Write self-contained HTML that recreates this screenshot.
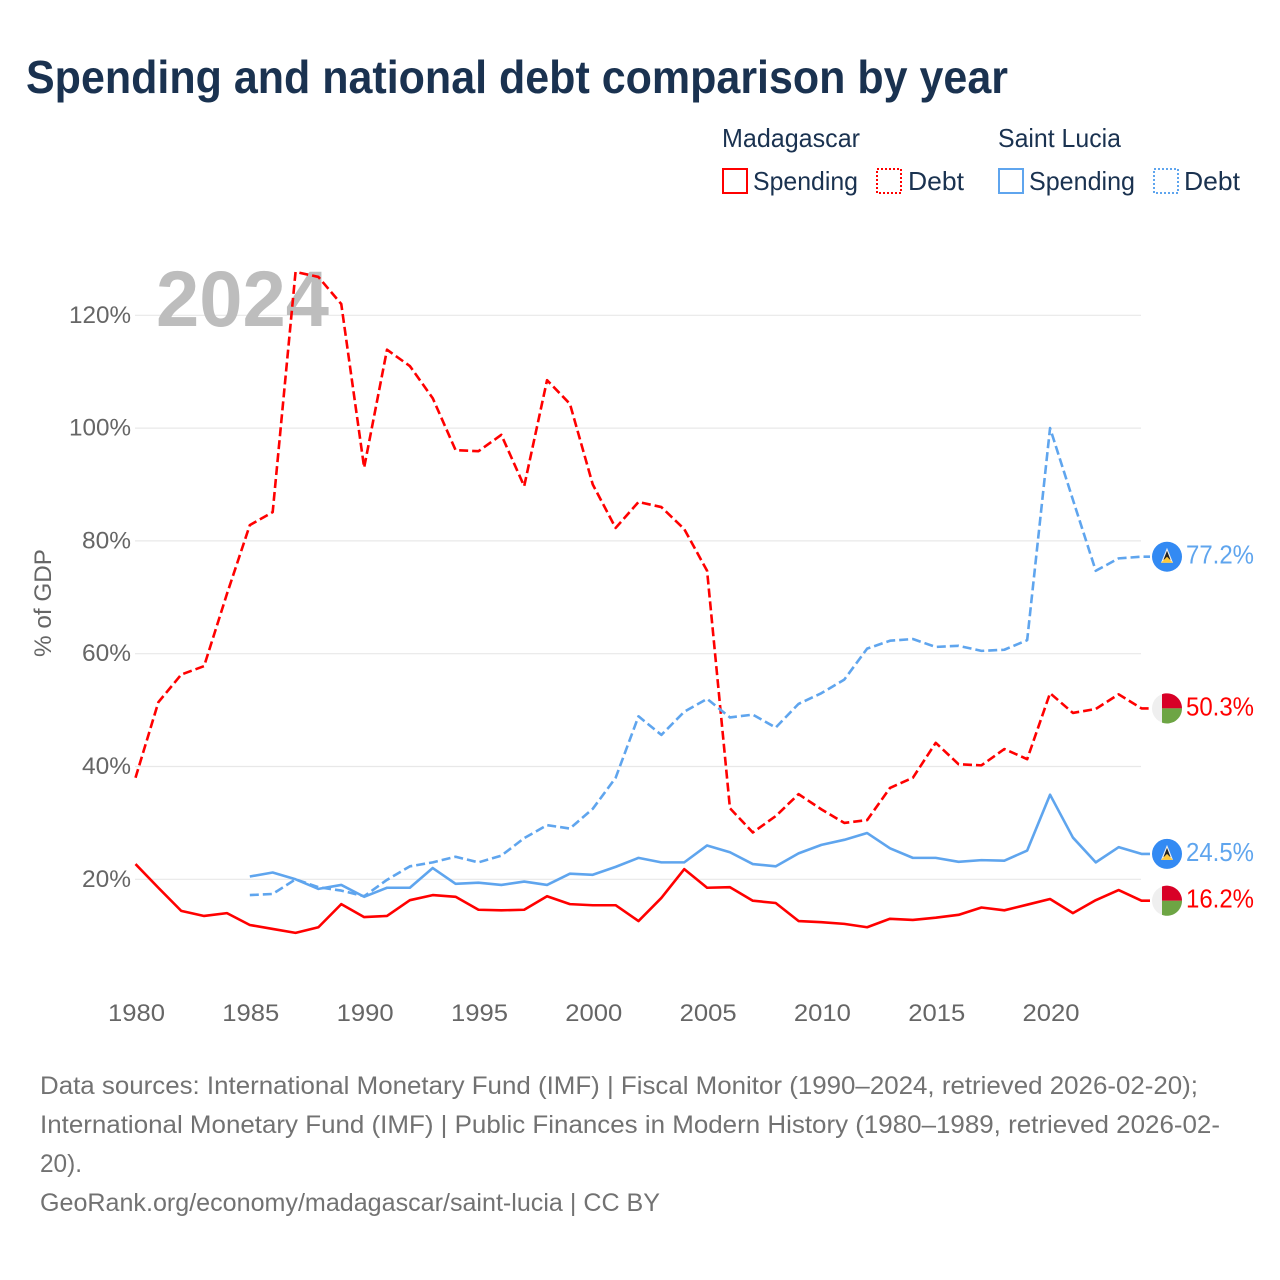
<!DOCTYPE html>
<html lang="en">
<head>
<meta charset="utf-8">
<title>Spending and national debt comparison by year</title>
<style>
html,body{margin:0;padding:0;background:#fff;width:1280px;height:1280px;overflow:hidden}
svg{display:block}
text{font-family:"Liberation Sans",sans-serif}
</style>
</head>
<body>
<svg id="chart" width="1280" height="1280" viewBox="0 0 1280 1280" xmlns="http://www.w3.org/2000/svg">
  <rect x="0" y="0" width="1280" height="1280" fill="#fff"/>
  <text x="26" y="93" font-size="46" font-weight="700" fill="#1a3250" textLength="982" lengthAdjust="spacingAndGlyphs">Spending and national debt comparison by year</text>

  <g font-size="26" fill="#1a3250">
    <text x="722" y="147" textLength="138" lengthAdjust="spacingAndGlyphs">Madagascar</text>
    <text x="998" y="147" textLength="123" lengthAdjust="spacingAndGlyphs">Saint Lucia</text>
    <rect x="723" y="169" width="24" height="24" fill="none" stroke="#ff0000" stroke-width="2"/>
    <text x="753" y="190" textLength="105" lengthAdjust="spacingAndGlyphs">Spending</text>
    <rect x="877" y="169" width="24" height="24" fill="none" stroke="#ff0000" stroke-width="2" stroke-dasharray="2 2"/>
    <text x="908" y="190" textLength="56" lengthAdjust="spacingAndGlyphs">Debt</text>
    <rect x="999" y="169" width="24" height="24" fill="none" stroke="#5fa5ee" stroke-width="2"/>
    <text x="1029" y="190" textLength="106" lengthAdjust="spacingAndGlyphs">Spending</text>
    <rect x="1154" y="169" width="24" height="24" fill="none" stroke="#5fa5ee" stroke-width="2" stroke-dasharray="2 2"/>
    <text x="1184" y="190" textLength="56" lengthAdjust="spacingAndGlyphs">Debt</text>
  </g>

  <g id="grid"></g>
  <text x="156" y="326" font-size="79" font-weight="700" fill="#bdbdbd" textLength="173" lengthAdjust="spacingAndGlyphs">2024</text>
  <g id="yticks" font-size="24" fill="#666" text-anchor="end"></g>
  <g id="xticks" font-size="24" fill="#666" text-anchor="middle"></g>
  <text transform="translate(51,603) rotate(-90)" font-size="24" fill="#666" text-anchor="middle" textLength="108" lengthAdjust="spacingAndGlyphs">% of GDP</text>
  <g id="lines"></g>
  <g id="ends"></g>

  <g font-size="25" fill="#727272">
    <text x="40" y="1094" textLength="1158" lengthAdjust="spacingAndGlyphs">Data sources: International Monetary Fund (IMF) | Fiscal Monitor (1990–2024, retrieved 2026-02-20);</text>
    <text x="40" y="1133" textLength="1180" lengthAdjust="spacingAndGlyphs">International Monetary Fund (IMF) | Public Finances in Modern History (1980–1989, retrieved 2026-02-</text>
    <text x="40" y="1172" textLength="42" lengthAdjust="spacingAndGlyphs">20).</text>
    <text x="40" y="1211" textLength="620" lengthAdjust="spacingAndGlyphs">GeoRank.org/economy/madagascar/saint-lucia | CC BY</text>
  </g>
</svg>
<script>
const firstYear = 1980;
const lastYear = 2024;
const xTickYears = [1980,1985,1990,1995,2000,2005,2010,2015,2020];
const yTickValues = [20,40,60,80,100,120];
const madagascarSpendingStart = 1980;
const madagascarSpending = [22.7,18.5,14.4,13.5,14,11.9,11.2,10.5,11.5,15.6,13.3,13.5,16.3,17.2,16.9,14.6,14.5,14.6,17,15.6,15.4,15.4,12.6,16.7,21.8,18.5,18.6,16.2,15.8,12.6,12.4,12.1,11.5,13,12.8,13.2,13.7,15,14.5,15.5,16.5,14,16.3,18.1,16.2];
const madagascarDebtStart = 1980;
const madagascarDebt = [38,51.4,56.3,57.8,70.6,82.8,85.1,127.7,126.8,122,93,113.9,111,105.3,96.1,95.9,98.8,89.7,108.5,104.3,90,82.3,86.9,86,82.1,74.7,32.6,28.3,31.2,35.1,32.4,30,30.5,36.2,38,44.2,40.4,40.2,43.1,41.3,53,49.5,50.2,52.8,50.3];
const saintLuciaSpendingStart = 1985;
const saintLuciaSpending = [20.5,21.2,20,18.3,19,16.9,18.5,18.5,22,19.2,19.4,19,19.6,19,21,20.8,22.2,23.8,23,23,26,24.8,22.7,22.3,24.6,26.1,27,28.2,25.5,23.8,23.8,23.1,23.4,23.3,25.1,35,27.4,23,25.7,24.5];
const saintLuciaDebtStart = 1985;
const saintLuciaDebt = [17.2,17.4,20,18.6,18,17,19.9,22.3,23,24,23,24.2,27.3,29.6,29,32.5,38,48.9,45.6,49.7,52,48.7,49.2,46.9,51.1,53,55.4,60.9,62.3,62.6,61.2,61.4,60.5,60.7,62.4,100,87.3,74.7,76.9,77.2];

const NS = 'http://www.w3.org/2000/svg';
const RED = '#ff0000';
const BLUE = '#5fa5ee';

function xScale(year){ return 135.5 + (year - firstYear) * (1141.5 - 135.5) / (lastYear - firstYear); }
function yScale(v){ return 992.1 - v * 5.64; }

function make(tag, parent, attrs){
  const el = document.createElementNS(NS, tag);
  for (const k in attrs) el.setAttribute(k, attrs[k]);
  parent.appendChild(el);
  return el;
}

const grid = document.getElementById('grid');
const yticks = document.getElementById('yticks');
const xticks = document.getElementById('xticks');
const lines = document.getElementById('lines');
const ends = document.getElementById('ends');

yTickValues.forEach(function(v){
  const line = make('line', grid, {x1:135, x2:1141, y1:yScale(v), y2:yScale(v), stroke:'#e8e8e8', 'stroke-width':1.2});
  
  
  const label = make('text', yticks, {x:131, y:yScale(v)+7.5, textLength: v >= 100 ? 62 : 49, lengthAdjust:'spacingAndGlyphs'});
  
  
  label.textContent = v + '%';
});

xTickYears.forEach(function(y){
  const label = make('text', xticks, {x:xScale(y)+1, y:1021, textLength:57, lengthAdjust:'spacingAndGlyphs'});
  
  
  label.textContent = y;
});

function drawSeries(values, startYear, color, dashed, name){
  const pts = values.map(function(v, i){ return xScale(startYear + i).toFixed(2) + ',' + yScale(v).toFixed(2); });
  const lastV = values[values.length - 1];
  pts.push('1150,' + yScale(lastV).toFixed(2));
  const attrs = {points:pts.join(' '), fill:'none', stroke:color, 'stroke-width':2.6, 'stroke-linejoin':'round'};
  if (dashed) attrs['stroke-dasharray'] = '9 4';
  const line = make('polyline', lines, attrs);
  
  
}

drawSeries(madagascarDebt, madagascarDebtStart, RED, true, 'line-madagascar-debt');
drawSeries(saintLuciaDebt, saintLuciaDebtStart, BLUE, true, 'line-saint-lucia-debt');
drawSeries(saintLuciaSpending, saintLuciaSpendingStart, BLUE, false, 'line-saint-lucia-spending');
drawSeries(madagascarSpending, madagascarSpendingStart, RED, false, 'line-madagascar-spending');

function drawLuciaFlag(cy, name){
  const g = make('g', ends, {});
  
  
  const cx = 1167;
  make('circle', g, {cx:cx, cy:cy, r:15, fill:'#338af3'});
  make('polygon', g, {points:(cx-6)+','+(cy+6)+' '+cx+','+(cy-9)+' '+(cx+6)+','+(cy+6), fill:'#f0f0f0'});
  make('polygon', g, {points:(cx-3.5)+','+(cy+3)+' '+cx+','+(cy-6)+' '+(cx+3.5)+','+(cy+3), fill:'#222'});
  make('polygon', g, {points:(cx-6)+','+(cy+6)+' '+cx+','+(cy)+' '+(cx+6)+','+(cy+6), fill:'#ffc93c'});
}

function drawMadagascarFlag(cy, name){
  const g = make('g', ends, {});
  
  
  const cx = 1167;
  make('circle', g, {cx:cx, cy:cy, r:15, fill:'#efefef'});
  make('path', g, {d:'M'+(cx-5)+' '+cy+' V'+(cy-14.2)+' A15 15 0 0 1 '+(cx+15)+' '+cy+' Z', fill:'#d80027'});
  make('path', g, {d:'M'+(cx-5)+' '+cy+' V'+(cy+14.2)+' A15 15 0 0 0 '+(cx+15)+' '+cy+' Z', fill:'#6da544'});
}

function drawEndLabel(value, color, name){
  const label = make('text', ends, {x:1186, y:yScale(value)+7, 'font-size':26, fill:color, textLength:68, lengthAdjust:'spacingAndGlyphs'});
  
  
  label.textContent = value.toFixed(1) + '%';
}

const lastLuciaDebt = saintLuciaDebt[saintLuciaDebt.length - 1];
const lastMadDebt = madagascarDebt[madagascarDebt.length - 1];
const lastLuciaSpending = saintLuciaSpending[saintLuciaSpending.length - 1];
const lastMadSpending = madagascarSpending[madagascarSpending.length - 1];

drawLuciaFlag(yScale(lastLuciaDebt), 'flag-saint-lucia-debt');
drawMadagascarFlag(yScale(lastMadDebt), 'flag-madagascar-debt');
drawLuciaFlag(yScale(lastLuciaSpending), 'flag-saint-lucia-spending');
drawMadagascarFlag(yScale(lastMadSpending), 'flag-madagascar-spending');

drawEndLabel(lastLuciaDebt, BLUE, 'end-label-saint-lucia-debt');
drawEndLabel(lastMadDebt, RED, 'end-label-madagascar-debt');
drawEndLabel(lastLuciaSpending, BLUE, 'end-label-saint-lucia-spending');
drawEndLabel(lastMadSpending, RED, 'end-label-madagascar-spending');
</script>
</body>
</html>
